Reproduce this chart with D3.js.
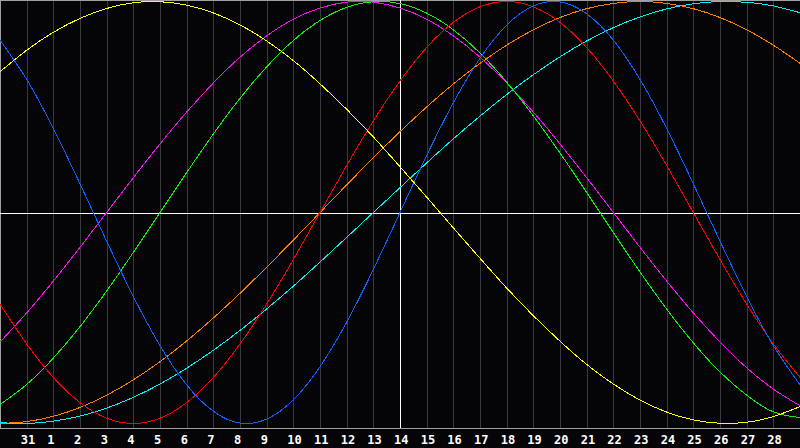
<!DOCTYPE html>
<html>
<head>
<meta charset="utf-8">
<script src="https://cdn.jsdelivr.net/npm/d3@7/dist/d3.min.js"></script>
<style>
  html, body { margin: 0; padding: 0; background: #050508; }
  svg { display: block; }
</style>
</head>
<body>
<svg id="chart" width="800" height="448"></svg>
<script>
// Day index 0..30 across the chart; tick labels sit at index 1..29
const dayIndex = d3.range(0, 31);
const tickLabels = ["31","1","2","3","4","5","6","7","8","9","10","11","12","13","14",
  "15","16","17","18","19","20","21","22","23","24","25","26","27","28"];
const todayLabel = "14";

// Series values (-1 .. 1), one per day index 0..30
const yellowValues = [0.667,0.769,0.854,0.920,0.967,0.994,0.999,0.983,0.946,0.889,0.813,0.720,0.610,0.489,0.358,0.217,0.073,-0.073,-0.217,-0.358,-0.489,-0.610,-0.720,-0.813,-0.889,-0.946,-0.983,-0.999,-0.994,-0.967,-0.920];
const blueValues = [0.817,0.631,0.398,0.136,-0.136,-0.398,-0.631,-0.817,-0.942,-0.998,-0.979,-0.888,-0.731,-0.520,-0.270,0,0.270,0.520,0.731,0.888,0.979,0.998,0.942,0.817,0.631,0.398,0.136,-0.136,-0.398,-0.631,-0.817];
const redValues = [-0.434,-0.623,-0.782,-0.901,-0.975,-1,-0.975,-0.901,-0.782,-0.623,-0.434,-0.223,0,0.223,0.434,0.623,0.782,0.901,0.975,1,0.975,0.901,0.782,0.623,0.434,0.223,0,-0.223,-0.434,-0.623,-0.782];
const greenValues = [-0.910,-0.815,-0.690,-0.541,-0.372,-0.189,0,0.189,0.372,0.541,0.690,0.815,0.910,0.972,0.999,0.990,0.945,0.866,0.756,0.618,0.458,0.282,0.095,-0.095,-0.282,-0.458,-0.618,-0.756,-0.866,-0.945,-0.972];
const magentaValues = [-0.614,-0.476,-0.325,-0.165,0,0.165,0.325,0.476,0.614,0.736,0.837,0.916,0.969,0.997,0.997,0.969,0.916,0.837,0.736,0.614,0.476,0.325,0.165,0,-0.165,-0.325,-0.476,-0.614,-0.736,-0.837,-0.916];
const orangeValues = [-1,-0.991,-0.966,-0.924,-0.866,-0.793,-0.707,-0.609,-0.5,-0.383,-0.259,-0.131,0,0.131,0.259,0.383,0.5,0.609,0.707,0.793,0.866,0.924,0.966,0.991,1,0.991,0.966,0.924,0.866,0.793,0.707];
const cyanValues = [-0.996,-1,-0.989,-0.965,-0.927,-0.876,-0.813,-0.738,-0.653,-0.559,-0.457,-0.349,-0.235,-0.118,0,0.118,0.235,0.349,0.457,0.559,0.653,0.738,0.813,0.876,0.927,0.965,0.989,1,0.996,0.979,0.947];

const seriesList = [
  { values: orangeValues,  color: "#ff8000" },
  { values: cyanValues,    color: "#00f0f0" },
  { values: magentaValues, color: "#f010f0" },
  { values: greenValues,   color: "#10f010" },
  { values: redValues,     color: "#ff0000" },
  { values: blueValues,    color: "#1060ff" },
  { values: yellowValues,  color: "#ffff00" }
];

const W = 800, plotBottom = 428;
const svg = d3.select("#chart");
const x = d3.scaleLinear().domain([0, 30]).range([0, W]);
const y = d3.scaleLinear().domain([-1, 1]).range([423.5, 1.5]);

svg.append("rect").attr("x", 0).attr("y", 0).attr("width", W).attr("height", 448).attr("fill", "#050508");

// vertical day grid lines
const tickIdx = d3.range(1, 30);
svg.append("g").selectAll("line").data(tickIdx).join("line")
  .attr("x1", d => Math.round(x(d)) + 0.5).attr("x2", d => Math.round(x(d)) + 0.5)
  .attr("y1", 0).attr("y2", plotBottom)
  .attr("stroke", "#3a3a3e").attr("stroke-width", 1)
  .attr("shape-rendering", "crispEdges");

// frame
svg.append("line").attr("x1", 0).attr("x2", W).attr("y1", 0.5).attr("y2", 0.5)
  .attr("stroke", "#a0a0a0").attr("shape-rendering", "crispEdges");
svg.append("line").attr("x1", 0.5).attr("x2", 0.5).attr("y1", 0).attr("y2", plotBottom)
  .attr("stroke", "#a0a0a0").attr("shape-rendering", "crispEdges");
svg.append("line").attr("x1", 0).attr("x2", W).attr("y1", plotBottom + 0.5).attr("y2", plotBottom + 0.5)
  .attr("stroke", "#a0a0a0").attr("shape-rendering", "crispEdges");

// zero line and today line
svg.append("line").attr("x1", 0).attr("x2", W)
  .attr("y1", Math.round(y(0)) + 0.5).attr("y2", Math.round(y(0)) + 0.5)
  .attr("stroke", "#ffffff").attr("shape-rendering", "crispEdges");
const todayIdx = tickLabels.indexOf(todayLabel) + 1;
svg.append("line")
  .attr("x1", Math.round(x(todayIdx)) + 0.5).attr("x2", Math.round(x(todayIdx)) + 0.5)
  .attr("y1", 0).attr("y2", plotBottom)
  .attr("stroke", "#ffffff").attr("shape-rendering", "crispEdges");

// curves
const line = d3.line().x((d, i) => x(dayIndex[i])).y(d => y(d)).curve(d3.curveNatural);
svg.append("g").selectAll("path").data(seriesList).join("path")
  .attr("d", s => line(s.values))
  .attr("fill", "none")
  .attr("stroke", s => s.color)
  .attr("stroke-width", 1)
  .attr("shape-rendering", "crispEdges");

// labels
svg.append("g").selectAll("text").data(tickLabels).join("text")
  .attr("x", (d, i) => x(i + 1) - 6)
  .attr("y", 443.5)
  .attr("fill", "#ffffff")
  .attr("font-family", "'DejaVu Sans Mono', monospace")
  .attr("font-weight", "bold")
  .attr("font-size", "12px")
  .text(d => d);
</script>
</body>
</html>
